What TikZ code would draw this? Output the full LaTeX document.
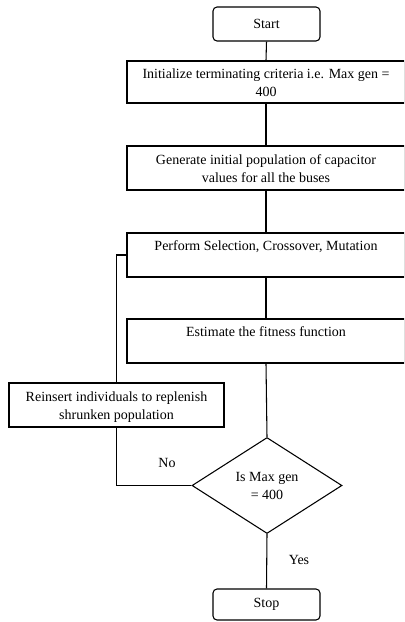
\documentclass[tikz,border=0pt]{standalone}
\usepackage{fontspec}
\setmainfont{Liberation Serif}
\usetikzlibrary{shapes.geometric}

\tikzset{
  every node/.style={font=\fontsize{10.5}{13.5}\selectfont, align=center},
  flowline/.style={draw=black, line width=0.8pt},
  procbox/.style={draw=black, line width=0.8pt, rectangle, inner sep=0pt,
                  minimum width=208.5pt, minimum height=33pt},
  % two lines of text set a little below the middle of the box
  % (the text box's baseline is that of its last line)
  twolines/.style={text height=23.5pt, text depth=1.5pt},
  % single line of text set in the upper part of the box
  highline/.style={text height=7pt, text depth=13.75pt},
  termbox/.style={draw=black, line width=0.8pt, rectangle, rounded corners=3pt,
                  inner sep=0pt, minimum width=80.25pt},
  testbox/.style={draw=black, line width=0.8pt, diamond, inner sep=0pt,
                  minimum width=112.5pt, minimum height=72pt},
  tag/.style={inner sep=0pt}
}

\begin{document}
\begin{tikzpicture}[x=0.75pt, y=-0.75pt]
  \useasboundingbox (0,0) rectangle (404,622);
  \clip (0,0) rectangle (404,622);
  \fill[white] (0,0) rectangle (404,622);

  % terminal and process steps down the main column
  \node[termbox, minimum height=25.5pt] (start) at (266.5,24) {Start};
  \node[procbox, twolines, minimum height=31.5pt] (init) at (266,82)
    {Initialize terminating criteria i.e. Max gen =\\400};
  \node[procbox, twolines] (gen) at (266,168)
    {Generate initial population of capacitor\\values for all the buses};
  \node[procbox, highline] (perf) at (266,255)
    {Perform Selection, Crossover, Mutation};
  \node[procbox, highline] (est) at (266,341)
    {Estimate the fitness function};

  % loop-back step on the left
  \node[procbox, twolines, minimum width=161.25pt] (reins) at (116.5,405)
    {Reinsert individuals to replenish\\shrunken population};

  % termination test and end
  \node[testbox] (dec) at (267,485.5) {Is Max gen\\= 400};
  \node[termbox, minimum height=23.25pt] (stop) at (266.5,604.5) {Stop};

  % main flow
  \draw[flowline] (start.south) -- (init.north);
  \draw[flowline] (init.south) -- (gen.north);
  \draw[flowline] (gen.south) -- (perf.north);
  \draw[flowline] (perf.south) -- (est.north);
  \draw[flowline] (est.south) -- (dec.north);
  \draw[flowline] (dec.south) -- (stop.north);

  % "No" branch back into the loop
  \draw[flowline] (dec.west) -| (reins.south);
  \draw[flowline] (reins.north) |- (perf.west);

  % branch labels
  \node[tag] (nolbl) at (167,463) {No};
  \node[tag] (yeslbl) at (299,560) {Yes};
\end{tikzpicture}
\end{document}
